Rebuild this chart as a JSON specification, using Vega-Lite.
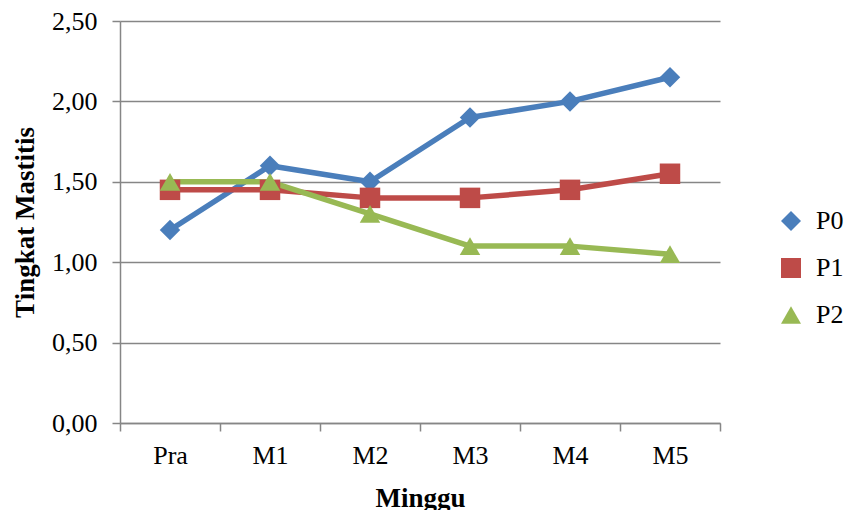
{
  "$schema": "https://vega.github.io/schema/vega-lite/v6.json",
  "width": 600,
  "height": 402,
  "autosize": {"type": "none"},
  "padding": {"left": 120, "top": 21, "right": 129, "bottom": 87},
  "background": "white",
  "config": {
    "view": {"stroke": null},
    "font": "Liberation Serif",
    "legend": {
      "title": null,
      "orient": "none",
      "legendX": 658,
      "legendY": 187,
      "padding": 0,
      "offset": 0,
      "labelFont": "Liberation Serif",
      "labelFontSize": 26,
      "labelColor": "#000000",
      "labelOffset": 12,
      "rowPadding": 21,
      "symbolSize": 400,
      "symbolStrokeWidth": 0
    }
  },
  "data": {
    "values": [
      {"minggu": "Pra", "seri": "P0", "nilai": 1.2},
      {"minggu": "M1", "seri": "P0", "nilai": 1.6},
      {"minggu": "M2", "seri": "P0", "nilai": 1.5},
      {"minggu": "M3", "seri": "P0", "nilai": 1.9},
      {"minggu": "M4", "seri": "P0", "nilai": 2.0},
      {"minggu": "M5", "seri": "P0", "nilai": 2.15},
      {"minggu": "Pra", "seri": "P1", "nilai": 1.45},
      {"minggu": "M1", "seri": "P1", "nilai": 1.45},
      {"minggu": "M2", "seri": "P1", "nilai": 1.4},
      {"minggu": "M3", "seri": "P1", "nilai": 1.4},
      {"minggu": "M4", "seri": "P1", "nilai": 1.45},
      {"minggu": "M5", "seri": "P1", "nilai": 1.55},
      {"minggu": "Pra", "seri": "P2", "nilai": 1.5},
      {"minggu": "M1", "seri": "P2", "nilai": 1.5},
      {"minggu": "M2", "seri": "P2", "nilai": 1.3},
      {"minggu": "M3", "seri": "P2", "nilai": 1.1},
      {"minggu": "M4", "seri": "P2", "nilai": 1.1},
      {"minggu": "M5", "seri": "P2", "nilai": 1.05}
    ]
  },
  "encoding": {
    "x": {
      "field": "minggu",
      "type": "nominal",
      "sort": ["Pra", "M1", "M2", "M3", "M4", "M5"],
      "bandPosition": 0.5,
      "scale": {"type": "band", "paddingInner": 0, "paddingOuter": 0},
      "axis": {
        "title": "Minggu",
        "titleFont": "Liberation Serif",
        "titleFontSize": 27,
        "titleFontWeight": "bold",
        "titleColor": "#000000",
        "titleX": 300,
        "titleY": 83,
        "titleBaseline": "alphabetic",
        "titleAlign": "center",
        "labelFont": "Liberation Serif",
        "labelFontSize": 26,
        "labelColor": "#000000",
        "labelAngle": 0,
        "labelPadding": 11,
        "tickBand": "extent",
        "ticks": true,
        "tickSize": 8,
        "tickColor": "#868686",
        "tickWidth": 1.5,
        "domainColor": "#868686",
        "domainWidth": 1.5,
        "grid": false
      }
    },
    "y": {
      "field": "nilai",
      "type": "quantitative",
      "scale": {"domain": [0, 2.5], "nice": false, "zero": true},
      "axis": {
        "values": [0, 0.5, 1, 1.5, 2, 2.5],
        "labelExpr": "replace(format(datum.value, '.2f'), '.', ',')",
        "title": "Tingkat Mastitis",
        "titleFont": "Liberation Serif",
        "titleFontSize": 27,
        "titleFontWeight": "bold",
        "titleColor": "#000000",
        "titleX": -87,
        "titleY": 201,
        "titleAngle": -90,
        "titleBaseline": "alphabetic",
        "titleAlign": "center",
        "labelFont": "Liberation Serif",
        "labelFontSize": 26,
        "labelColor": "#000000",
        "labelPadding": 15,
        "tickSize": 8,
        "tickColor": "#868686",
        "tickWidth": 1.5,
        "domainColor": "#868686",
        "domainWidth": 1.5,
        "grid": true,
        "gridColor": "#868686",
        "gridWidth": 1.5
      }
    },
    "color": {
      "field": "seri",
      "type": "nominal",
      "scale": {"domain": ["P0", "P1", "P2"], "range": ["#4A7EBB", "#BE4B48", "#98B954"]}
    }
  },
  "layer": [
    {
      "mark": {"type": "line", "strokeWidth": 5.5, "strokeJoin": "round", "strokeCap": "round"}
    },
    {
      "mark": {"type": "point", "filled": true, "opacity": 1, "size": 420},
      "encoding": {
        "shape": {
          "field": "seri",
          "type": "nominal",
          "scale": {"domain": ["P0", "P1", "P2"], "range": ["diamond", "square", "triangle-up"]},
          "legend": {
            "encode": {
              "symbols": {
                "update": {
                  "opacity": {"value": 1},
                  "strokeWidth": {"value": 0}
                }
              }
            }
          }
        }
      }
    }
  ]
}
